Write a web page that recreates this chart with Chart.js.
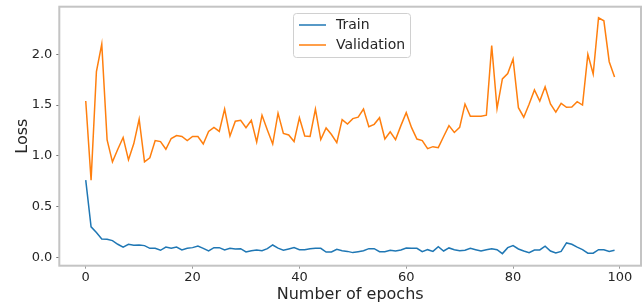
<!DOCTYPE html>
<html>
<head>
<meta charset="utf-8">
<script src="https://cdn.jsdelivr.net/npm/chart.js@4/dist/chart.umd.min.js"></script>
<style>
  html, body { margin: 0; padding: 0; background: #fff; }
  #wrap { width: 644px; height: 304px; }
</style>
</head>
<body>
<div id="wrap"><canvas id="lossChart" width="644" height="304"></canvas></div>
<script>
const trainLoss = [
  0.76, 0.30, 0.243, 0.18, 0.177, 0.164, 0.128, 0.10, 0.128, 0.118,
  0.121, 0.115, 0.088, 0.088, 0.069, 0.10, 0.088, 0.10, 0.072, 0.088,
  0.095, 0.111, 0.088, 0.062, 0.095, 0.095, 0.072, 0.088, 0.082, 0.085,
  0.052, 0.065, 0.072, 0.065, 0.085, 0.121, 0.09, 0.069, 0.082, 0.095,
  0.075, 0.075, 0.085, 0.088, 0.088, 0.052, 0.052, 0.078, 0.065, 0.058,
  0.046, 0.055, 0.065, 0.085, 0.085, 0.055, 0.055, 0.069, 0.062, 0.072,
  0.092, 0.088, 0.088, 0.055, 0.075, 0.058, 0.105, 0.062, 0.092, 0.075,
  0.065, 0.069, 0.088, 0.075, 0.062, 0.075, 0.085, 0.075, 0.036, 0.095,
  0.115, 0.082, 0.062, 0.046, 0.072, 0.072, 0.11, 0.062, 0.042, 0.058,
  0.141, 0.128, 0.10, 0.075, 0.04, 0.04, 0.075, 0.075, 0.058, 0.069
];
const validationLoss = [
  1.54, 0.76, 1.83, 2.10, 1.156, 0.94, 1.064, 1.18, 0.96, 1.12,
  1.36, 0.94, 0.98, 1.15, 1.14, 1.064, 1.17, 1.20, 1.19, 1.15,
  1.19, 1.19, 1.116, 1.24, 1.28, 1.24, 1.46, 1.195, 1.34, 1.35,
  1.277, 1.35, 1.136, 1.40, 1.254, 1.116, 1.42, 1.22, 1.205, 1.14,
  1.375, 1.195, 1.19, 1.46, 1.16, 1.274, 1.21, 1.13, 1.356, 1.313,
  1.366, 1.38, 1.46, 1.287, 1.31, 1.375, 1.165, 1.237, 1.16, 1.297,
  1.425, 1.277, 1.165, 1.15, 1.07, 1.09, 1.08, 1.19, 1.297, 1.23,
  1.28, 1.51, 1.39, 1.39, 1.39, 1.40, 2.085, 1.465, 1.757, 1.81,
  1.954, 1.474, 1.38, 1.507, 1.648, 1.54, 1.68, 1.51, 1.43, 1.517,
  1.478, 1.48, 1.533, 1.50, 2.0, 1.806, 2.36, 2.33, 1.927, 1.776
];
const epochs = trainLoss.map((_, i) => i);
const xTicks = [0, 20, 40, 60, 80, 100];
const yTicks = [0.0, 0.5, 1.0, 1.5, 2.0];

const FONT = 'DejaVu Sans';
const TEXT = '#262626';

function toPoints(values) {
  return values.map((v, i) => ({ x: epochs[i], y: v }));
}

// box around the plot area, like the matplotlib frame
const framePlugin = {
  id: 'frame',
  afterDraw(chart) {
    const a = chart.chartArea;
    const c = chart.ctx;
    c.save();
    c.strokeStyle = '#c4c4c4';
    c.lineWidth = 2;
    c.strokeRect(a.left, a.top, a.right - a.left, a.bottom - a.top);
    c.restore();
  }
};

// legend drawn inside the plot, upper centre
const legendPlugin = {
  id: 'innerLegend',
  afterDraw(chart) {
    const c = chart.ctx;
    const x = 293, y = 13, w = 117, h = 44;
    c.save();
    c.fillStyle = 'rgba(255,255,255,0.85)';
    c.strokeStyle = '#d0d0d0';
    c.lineWidth = 1;
    c.beginPath();
    c.roundRect(x + 0.5, y + 0.5, w, h, 3);
    c.fill();
    c.stroke();
    c.font = '14px ' + FONT;
    c.textBaseline = 'middle';
    chart.data.datasets.forEach((ds, i) => {
      const ly = y + 12 + i * 20;
      c.strokeStyle = ds.borderColor;
      c.lineWidth = 1.5;
      c.beginPath();
      c.moveTo(x + 6, ly);
      c.lineTo(x + 33, ly);
      c.stroke();
      c.fillStyle = TEXT;
      c.fillText(ds.label, x + 43, ly);
    });
    c.restore();
  }
};

new Chart(document.getElementById('lossChart'), {
  type: 'line',
  data: {
    datasets: [{
      label: 'Train',
      data: toPoints(trainLoss),
      borderColor: '#1f77b4',
      borderWidth: 1.5,
      pointRadius: 0,
      tension: 0
    }, {
      label: 'Validation',
      data: toPoints(validationLoss),
      borderColor: '#ff7f0e',
      borderWidth: 1.5,
      pointRadius: 0,
      tension: 0
    }]
  },
  options: {
    responsive: false,
    animation: false,
    layout: { padding: { top: 6.7, right: 3, left: 0, bottom: 0 } },
    plugins: {
      legend: { display: false },
      tooltip: { enabled: false }
    },
    scales: {
      x: {
        type: 'linear',
        min: -4.95,
        max: 103.95,
        afterBuildTicks: (s) => { s.ticks = xTicks.map((v) => ({ value: v })); },
        afterFit: (s) => {
          s.height = 38.3;
          s.paddingLeft = 0;
          s.paddingRight = 0;
        },
        grid: { drawOnChartArea: false, drawTicks: true, tickLength: 3, color: '#999' },
        border: { display: false },
        ticks: {
          color: TEXT,
          padding: 2,
          maxRotation: 0,
          font: { family: FONT, size: 13, lineHeight: 1 }
        },
        title: {
          display: true,
          text: 'Number of epochs',
          color: TEXT,
          padding: { top: 0, bottom: 0 },
          font: { family: FONT, size: 16, lineHeight: 1.1 }
        }
      },
      y: {
        type: 'linear',
        min: -0.083,
        max: 2.469,
        afterBuildTicks: (s) => { s.ticks = yTicks.map((v) => ({ value: v })); },
        afterFit: (s) => {
          s.width = 59.3;
          s.paddingTop = 0;
          s.paddingBottom = 0;
        },
        grid: { drawOnChartArea: false, drawTicks: true, tickLength: 3, color: '#777' },
        border: { display: false },
        ticks: {
          color: TEXT,
          padding: 4,
          font: { family: FONT, size: 13, lineHeight: 1 },
          callback: (v) => Number(v).toFixed(1)
        },
        title: {
          display: true,
          text: 'Loss',
          color: TEXT,
          padding: { top: 13, bottom: 0 },
          font: { family: FONT, size: 16 }
        }
      }
    }
  },
  plugins: [framePlugin, legendPlugin]
});
</script>
</body>
</html>
